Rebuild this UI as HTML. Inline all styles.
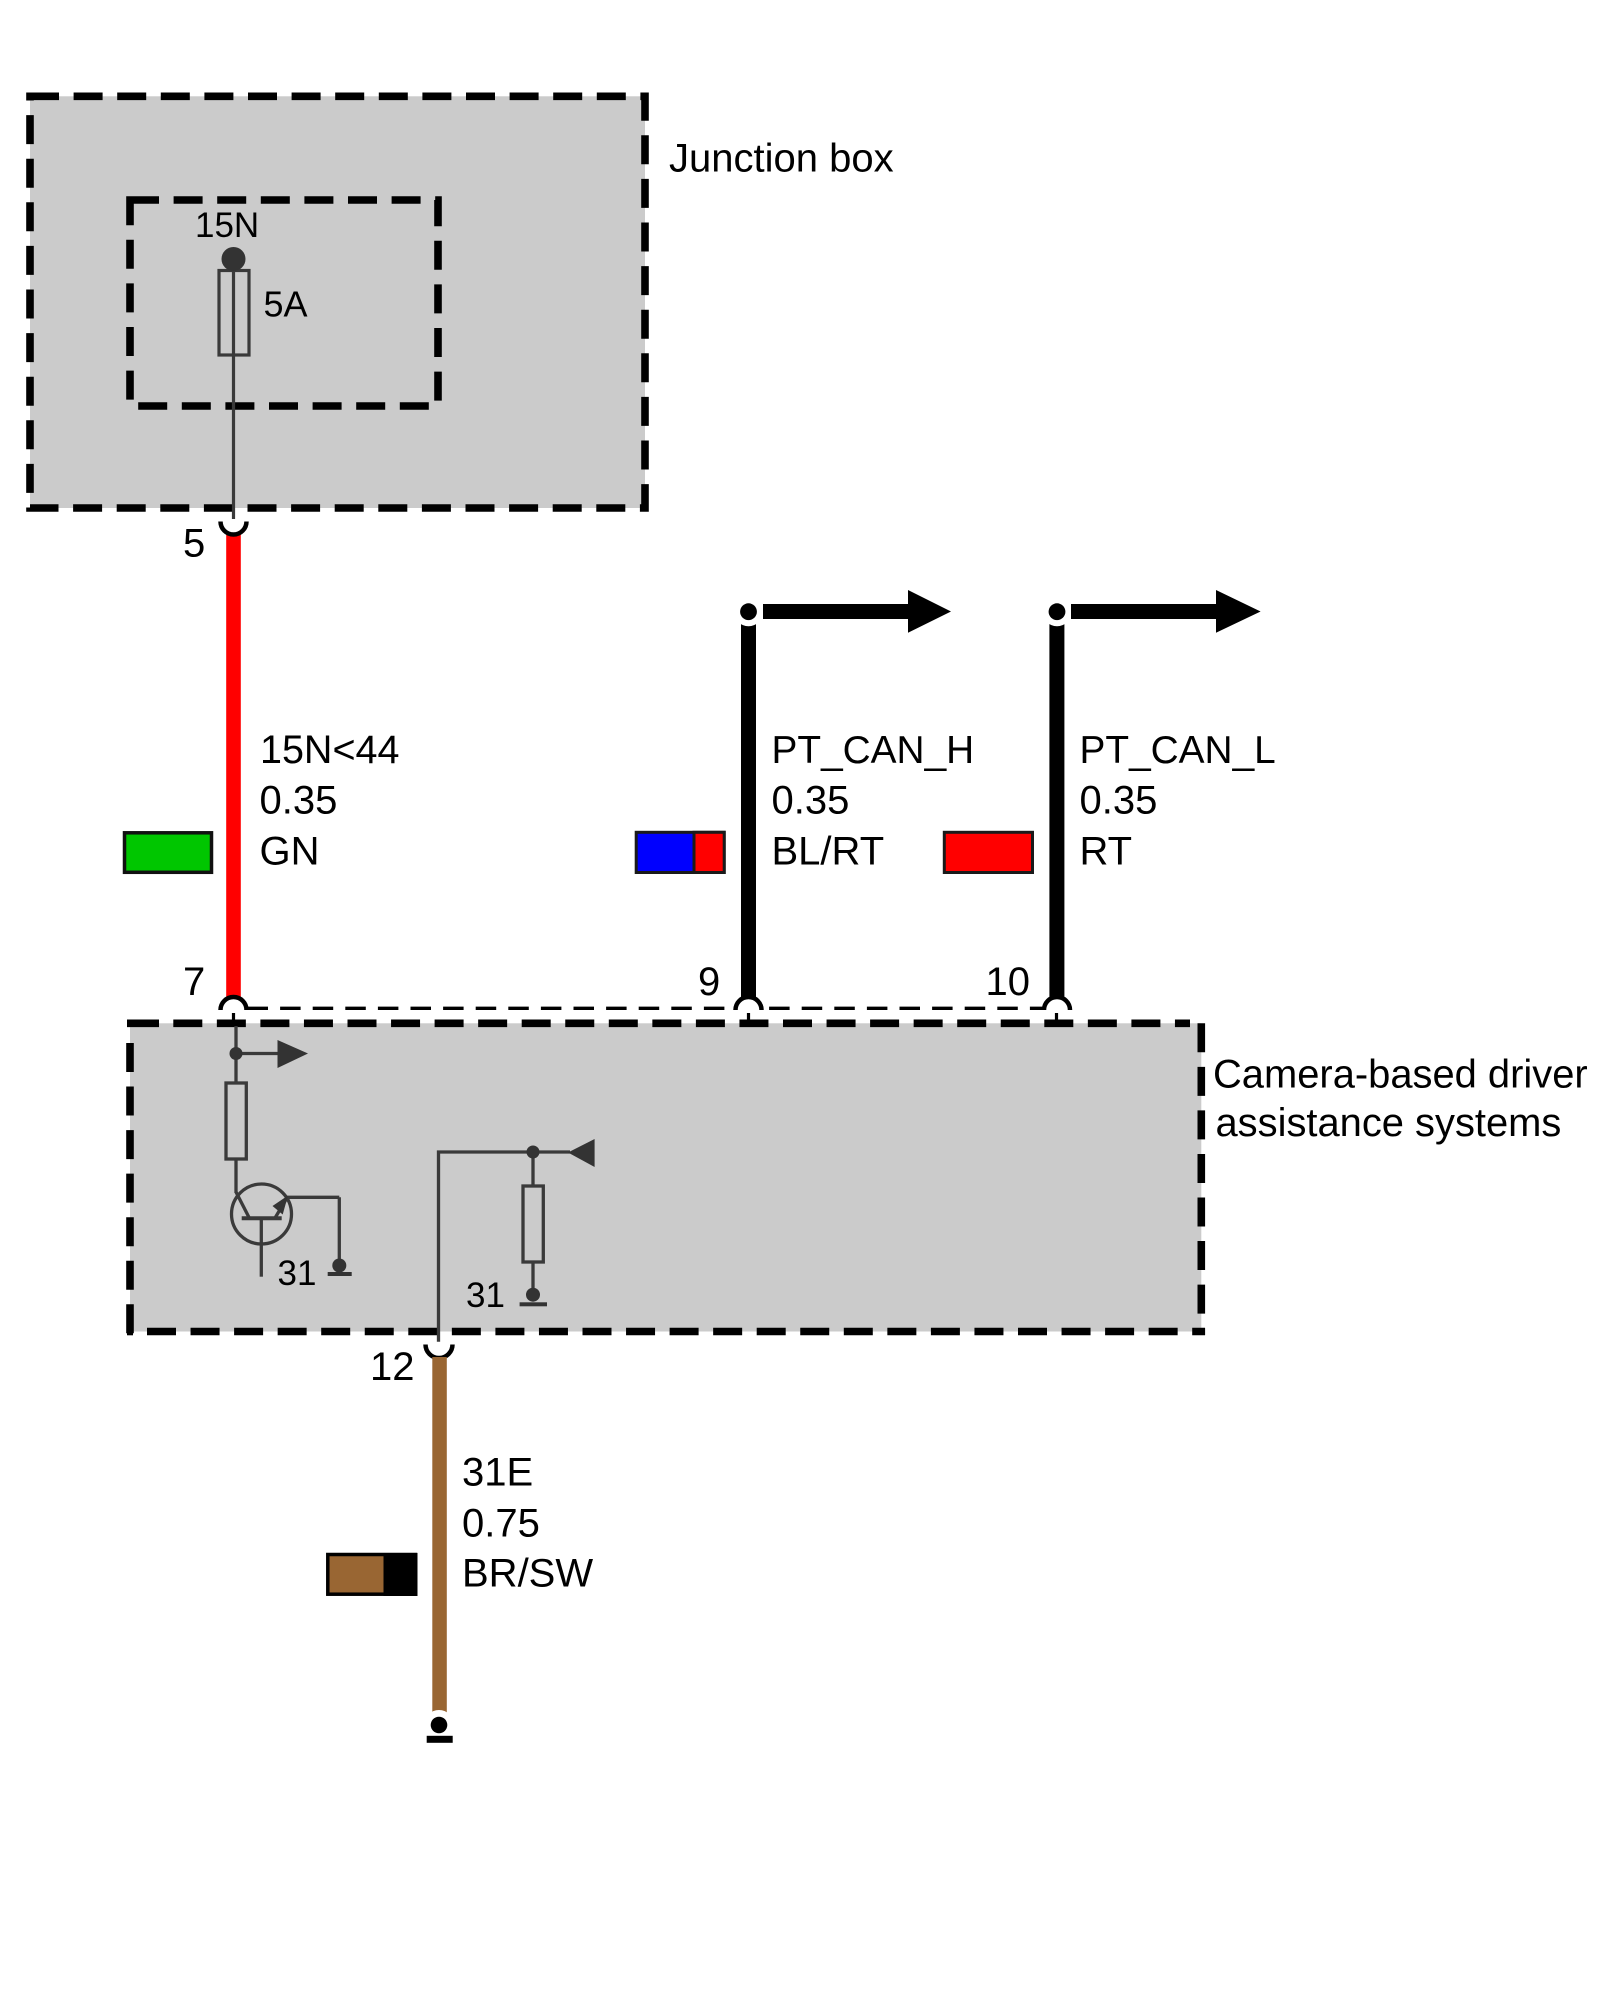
<!DOCTYPE html>
<html>
<head>
<meta charset="utf-8">
<style>
html,body{margin:0;padding:0;background:#fff;width:1600px;height:2000px;overflow:hidden}
svg{display:block}
text{font-family:"Liberation Sans",sans-serif;fill:#000}
</style>
</head>
<body>
<svg width="1600" height="2000" viewBox="0 0 1600 2000" xmlns="http://www.w3.org/2000/svg">
<rect width="1600" height="2000" fill="#fff"/>

<!-- Junction box -->
<rect x="30" y="96.3" width="615" height="411.7" fill="#cbcbcb"/>
<rect x="30" y="96.3" width="615" height="411.7" fill="none" stroke="#000" stroke-width="7.6" stroke-dasharray="29 14.6"/>
<rect x="130" y="200" width="308" height="206" fill="none" stroke="#000" stroke-width="7.6" stroke-dasharray="29 14.6"/>
<line x1="233.5" y1="262" x2="233.5" y2="519" stroke="#3a3a3a" stroke-width="3.2"/>
<rect x="219" y="270.5" width="30" height="84.5" fill="none" stroke="#3a3a3a" stroke-width="3.2"/>
<circle cx="233.5" cy="259" r="12" fill="#333"/>
<text x="195" y="237" font-size="35">15N</text>
<text x="263.5" y="316.5" font-size="36">5A</text>
<text x="669" y="171.7" font-size="40">Junction box</text>

<!-- Connector 5 and red wire -->
<rect x="226.2" y="530" width="14.6" height="470" fill="#f00"/>
<path d="M220.5 521.5 A13 13 0 0 0 246.5 521.5" fill="#fff" stroke="#000" stroke-width="4.5"/>
<text x="183" y="556.7" font-size="40">5</text>

<!-- Thin dashed line -->
<line x1="247.5" y1="1008.3" x2="1042" y2="1008.3" stroke="#000" stroke-width="3.3" stroke-dasharray="20.5 12.1"/>

<!-- CAN wires -->
<rect x="741" y="624" width="15" height="376" fill="#000"/>
<rect x="1049.4" y="624" width="15" height="376" fill="#000"/>
<circle cx="748.5" cy="611.7" r="14.5" fill="#fff"/>
<circle cx="1057" cy="611.7" r="14.5" fill="#fff"/>
<circle cx="748.5" cy="611.7" r="8.4" fill="#000"/>
<circle cx="1057" cy="611.7" r="8.4" fill="#000"/>
<path d="M763 604 H908 V590 L951 611.5 L908 632.7 V619 H763 Z" fill="#000"/>
<path d="M1071 604 H1216 V590 L1260.6 611.5 L1216 632.7 V619 H1071 Z" fill="#000"/>

<!-- Arc backgrounds -->
<circle cx="233.5" cy="1010" r="13" fill="#fff"/>
<circle cx="748.5" cy="1010" r="13" fill="#fff"/>
<circle cx="1057" cy="1010" r="13" fill="#fff"/>

<!-- Camera box -->
<rect x="130" y="1023.3" width="1071.3" height="308.2" fill="#cbcbcb"/>
<g stroke="#000" stroke-width="7.6" fill="none">
<line x1="127" y1="1023.3" x2="159" y2="1023.3"/>
<line x1="173.3" y1="1023.3" x2="1190" y2="1023.3" stroke-dasharray="29 14.55"/>
<line x1="1201.3" y1="1023.3" x2="1201.3" y2="1335" stroke-dasharray="29 14.55"/>
<line x1="147" y1="1331.5" x2="1205" y2="1331.5" stroke-dasharray="29 14.55"/>
<line x1="127" y1="1331.5" x2="133" y2="1331.5"/>
<line x1="130" y1="1043" x2="130" y2="1335" stroke-dasharray="29 14.55"/>
</g>

<!-- Arcs at top of camera box -->
<g fill="none" stroke="#000" stroke-width="4.5">
<path d="M220.5 1010 A13 13 0 0 1 246.5 1010"/>
<path d="M735.5 1010 A13 13 0 0 1 761.5 1010"/>
<path d="M1044 1010 A13 13 0 0 1 1070 1010"/>
</g>
<g stroke="#000" stroke-width="3.2">
<line x1="233.5" y1="1013" x2="233.5" y2="1023"/>
<line x1="748.5" y1="1013" x2="748.5" y2="1023"/>
<line x1="1056.5" y1="1013" x2="1056.5" y2="1023"/>
</g>

<!-- Camera box internals: left -->
<g stroke="#3a3a3a" stroke-width="3.3" fill="none">
<line x1="236" y1="1026" x2="236" y2="1083"/>
<line x1="236" y1="1053.5" x2="278" y2="1053.5"/>
<rect x="226" y="1083" width="20.3" height="76"/>
<line x1="236" y1="1159" x2="236" y2="1193"/>
<circle cx="261.5" cy="1214" r="30"/>
<line x1="236" y1="1192" x2="249.3" y2="1218"/>
<line x1="241.7" y1="1218.3" x2="281.7" y2="1218.3" stroke-width="4"/>
<line x1="261.3" y1="1218" x2="261.3" y2="1276.7"/>
<line x1="275" y1="1218" x2="287.5" y2="1197"/>
<line x1="287.5" y1="1197.3" x2="339.3" y2="1197.3"/>
<line x1="339.3" y1="1197.3" x2="339.3" y2="1265"/>
</g>
<path d="M288 1195.5 L272.5 1206 L282.7 1214.5 Z" fill="#333"/>
<circle cx="236" cy="1053.5" r="6.5" fill="#333"/>
<path d="M277.5 1040 L308 1053.5 L277.5 1068 Z" fill="#333"/>
<circle cx="339.3" cy="1265.5" r="7" fill="#333"/>
<rect x="327.7" y="1272" width="24" height="4" fill="#333"/>
<text x="277.5" y="1285" font-size="35">31</text>

<!-- Camera box internals: right -->
<g stroke="#3a3a3a" stroke-width="3.3" fill="none">
<path d="M438.5 1341.7 V1152 H570"/>
<line x1="533" y1="1152" x2="533" y2="1186"/>
<rect x="523" y="1186" width="20.3" height="76"/>
<line x1="533" y1="1262" x2="533" y2="1294"/>
</g>
<circle cx="533" cy="1152" r="6.5" fill="#333"/>
<path d="M568 1152.5 L594.6 1139 V1167 Z" fill="#333"/>
<circle cx="533" cy="1294.7" r="7" fill="#333"/>
<rect x="519.6" y="1302.3" width="27.4" height="4" fill="#333"/>
<text x="466" y="1307" font-size="35">31</text>

<!-- Connector 12 and brown wire -->
<path d="M425.5 1344.5 A13.5 13.5 0 0 0 452.5 1344.5" fill="none" stroke="#000" stroke-width="4.5"/>
<rect x="432.3" y="1357" width="14.5" height="360" fill="#996633"/>
<circle cx="439" cy="1725" r="15" fill="#fff"/>
<circle cx="439" cy="1725" r="8.3" fill="#000"/>
<rect x="426.7" y="1735.8" width="26" height="7" fill="#000"/>

<!-- Swatches -->
<rect x="124.5" y="832.8" width="87" height="39.5" fill="#00c600" stroke="#111" stroke-width="3.5"/>
<rect x="636.2" y="832.3" width="88" height="40.2" fill="#00f" stroke="#1a1a1a" stroke-width="3"/>
<rect x="694" y="832.3" width="30.2" height="40.2" fill="#f00" stroke="#1a1a1a" stroke-width="3"/>
<rect x="944.3" y="832.3" width="88.2" height="40.2" fill="#f00" stroke="#1a1a1a" stroke-width="3"/>
<rect x="327.8" y="1554.5" width="87.7" height="39.7" fill="#996633" stroke="#000" stroke-width="3.5"/>
<rect x="383.5" y="1553" width="34" height="43" fill="#000"/>

<!-- Labels -->
<g font-size="40">
<text x="183" y="995">7</text>
<text x="698" y="995">9</text>
<text x="985.5" y="995">10</text>
<text x="370" y="1380">12</text>
<text x="260" y="763" font-size="39.5">15N&lt;44</text>
<text x="259.5" y="813.5">0.35</text>
<text x="259.5" y="864.5">GN</text>
<text x="771.5" y="763" font-size="38.8">PT_CAN_H</text>
<text x="771.5" y="813.5">0.35</text>
<text x="771.5" y="864.5">BL/RT</text>
<text x="1079.5" y="763" font-size="38.8">PT_CAN_L</text>
<text x="1079.5" y="813.5">0.35</text>
<text x="1079.5" y="864.5">RT</text>
<text x="462" y="1485.5">31E</text>
<text x="462" y="1536.5">0.75</text>
<text x="462" y="1586.5">BR/SW</text>
<text x="1213" y="1087.3" font-size="39.9">Camera-based driver</text>
<text x="1215.5" y="1136" font-size="39.9">assistance systems</text>
</g>
</svg>
</body>
</html>
